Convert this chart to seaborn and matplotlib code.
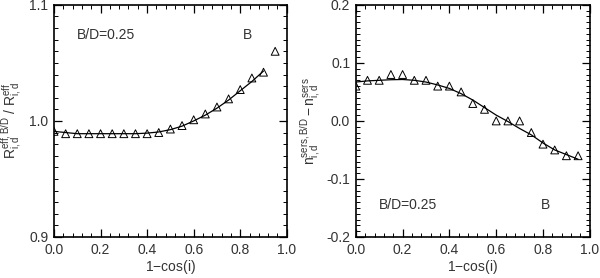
import matplotlib
matplotlib.use("Agg")
import matplotlib.pyplot as plt
import seaborn as sns
import pandas as pd
from matplotlib.ticker import MultipleLocator

sns.set_style("ticks")
plt.rcParams['font.family'] = ['Liberation Sans', 'DejaVu Sans']
plt.rcParams['mathtext.fontset'] = 'custom'
plt.rcParams['mathtext.rm'] = 'Liberation Sans'
plt.rcParams['mathtext.it'] = 'Liberation Sans'

# inclination grid, 1-cos(i)
x_pts = [0.0, 0.05, 0.1, 0.15, 0.2, 0.25, 0.3, 0.35, 0.4, 0.45,
         0.5, 0.55, 0.6, 0.65, 0.7, 0.75, 0.8, 0.85, 0.9, 0.95]

# left panel: effective radius ratio
r_pts = [0.991, 0.989, 0.989, 0.989, 0.989, 0.989, 0.989, 0.989, 0.989, 0.990,
         0.993, 0.996, 1.001, 1.006, 1.012, 1.019, 1.027, 1.037, 1.042, 1.060]
x_fit_r = [0.0, 0.05, 0.1, 0.15, 0.2, 0.25, 0.3, 0.35, 0.4, 0.45,
           0.5, 0.55, 0.6, 0.65, 0.7, 0.75, 0.8, 0.85, 0.9]
r_fit = [0.991, 0.990, 0.989, 0.989, 0.989, 0.989, 0.989, 0.989, 0.9895, 0.9905,
         0.9925, 0.9955, 1.000, 1.005, 1.011, 1.018, 1.026, 1.034, 1.043]

# right panel: sersic index difference
n_pts = [0.06, 0.07, 0.07, 0.08, 0.08, 0.07, 0.07, 0.06, 0.06, 0.05,
         0.03, 0.02, 0.00, 0.00, 0.00, -0.02, -0.04, -0.05, -0.06, -0.06]
n_fit = [0.067, 0.069, 0.070, 0.071, 0.0714, 0.070, 0.067, 0.062, 0.056, 0.047,
         0.036, 0.023, 0.010, -0.001, -0.013, -0.024, -0.038, -0.050, -0.058, -0.066]

fig = plt.figure(figsize=(6.0, 2.78), dpi=100)
ax1 = fig.add_axes([0.090, 0.1475, 0.388, 0.835])
ax2 = fig.add_axes([0.593, 0.1475, 0.390, 0.835])

txt_col = '#333333'


def style_axis(ax, ylim, ymajor, yminor):
    ax.set_xlim(0, 1.0)
    ax.set_ylim(*ylim)
    ax.xaxis.set_major_locator(MultipleLocator(0.2))
    ax.xaxis.set_minor_locator(MultipleLocator(0.04))
    ax.yaxis.set_major_locator(MultipleLocator(ymajor))
    ax.yaxis.set_minor_locator(MultipleLocator(yminor))
    ax.xaxis.set_major_formatter(plt.FormatStrFormatter('%.1f'))
    ax.yaxis.set_major_formatter(plt.FormatStrFormatter('%.1f'))
    ax.tick_params(which='both', direction='in', top=True, right=True,
                   color='black', labelsize=10, labelcolor=txt_col, pad=4)
    ax.tick_params(which='major', length=6, width=0.9)
    ax.tick_params(which='minor', length=3, width=0.7)
    for s in ax.spines.values():
        s.set_linewidth(1.2)
        s.set_color('black')
    ax.set_xlabel('1$-$cos(i)', fontsize=10, color=txt_col, labelpad=1)


df1 = pd.DataFrame({'x': x_pts, 'y': r_pts})
sns.lineplot(x=x_fit_r, y=r_fit, ax=ax1, color='black', linewidth=0.9)
sns.scatterplot(data=df1, x='x', y='y', ax=ax1, marker='^', s=32,
                facecolor='none', edgecolor='black', linewidth=0.7, zorder=3)
style_axis(ax1, (0.9, 1.1), 0.1, 0.01)
ax1.set_ylabel(r'$\mathrm{R^{eff,B/D}_{i,d}\ /\ R^{eff}_{i,d}}$', fontsize=10,
               color=txt_col, labelpad=4)
ax1.text(0.10, 1.074, 'B/D=0.25', fontsize=10, color=txt_col, va='center')
ax1.text(0.81, 1.074, 'B', fontsize=10, color=txt_col, va='center')

df2 = pd.DataFrame({'x': x_pts, 'y': n_pts})
sns.lineplot(x=x_pts, y=n_fit, ax=ax2, color='black', linewidth=0.9)
sns.scatterplot(data=df2, x='x', y='y', ax=ax2, marker='^', s=32,
                facecolor='none', edgecolor='black', linewidth=0.7, zorder=3)
style_axis(ax2, (-0.2, 0.2), 0.1, 0.01)
ax2.set_ylabel(r'$\mathrm{n^{sers,B/D}_{i,d} - n^{sers}_{i,d}}$', fontsize=10,
               color=txt_col, labelpad=2)
ax2.text(0.097, -0.145, 'B/D=0.25', fontsize=10, color=txt_col, va='center')
ax2.text(0.79, -0.145, 'B', fontsize=10, color=txt_col, va='center')

fig.savefig('out.png', dpi=100)
